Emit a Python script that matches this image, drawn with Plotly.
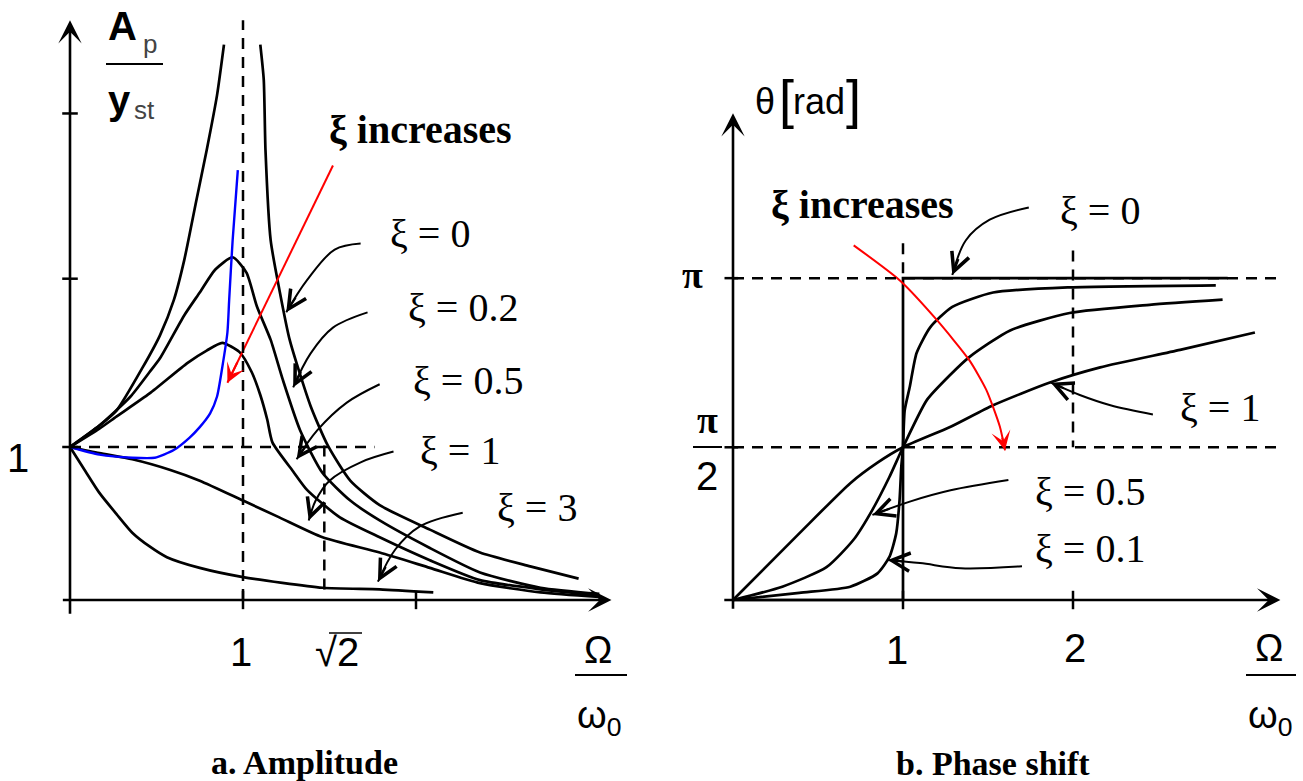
import plotly.graph_objects as go

W, H = 1303, 781

# ---------------- (a) Amplitude  A_p/y_st  vs  Omega/omega_0 ----------------
amp_xi0_left_x = [0, 0.17, 0.27, 0.42, 0.52, 0.60, 0.66, 0.73, 0.79, 0.85, 0.89]
amp_xi0_left_y = [1.00, 1.14, 1.24, 1.52, 1.73, 1.96, 2.22, 2.61, 2.94, 3.30, 3.63]
amp_xi0_right_x = [1.10, 1.12, 1.13, 1.16, 1.21, 1.27, 1.39, 1.49, 1.62, 1.79, 2.08, 2.37, 2.66, 2.94]
amp_xi0_right_y = [3.63, 3.40, 2.94, 2.35, 2.03, 1.70, 1.27, 1.01, 0.78, 0.62, 0.46, 0.31, 0.22, 0.14]
amp_xi02_x = [0, 0.17, 0.35, 0.46, 0.52, 0.66, 0.75, 0.84, 0.94, 1.02, 1.08, 1.16, 1.23, 1.33, 1.46,
              1.62, 1.79, 2.08, 2.37, 2.72, 3.06]
amp_xi02_y = [1.00, 1.14, 1.33, 1.49, 1.58, 1.86, 2.01, 2.16, 2.24, 2.14, 1.92, 1.70, 1.44, 1.11, 0.83,
              0.65, 0.52, 0.34, 0.18, 0.08, 0.04]
amp_xi05_x = [0, 0.17, 0.27, 0.46, 0.68, 0.79, 0.88, 0.98, 1.05, 1.10, 1.14, 1.17, 1.29, 1.37, 1.56,
              1.79, 2.08, 2.37, 2.72, 3.06]
amp_xi05_y = [1.00, 1.12, 1.20, 1.35, 1.55, 1.63, 1.68, 1.62, 1.49, 1.34, 1.18, 1.03, 0.84, 0.72, 0.54,
              0.41, 0.26, 0.13, 0.07, 0.03]
amp_xi1_x = [0, 0.17, 0.36, 0.58, 0.75, 1.00, 1.21, 1.46, 1.79, 2.08, 2.37, 2.72, 3.06]
amp_xi1_y = [1.00, 0.96, 0.92, 0.85, 0.78, 0.65, 0.54, 0.41, 0.31, 0.21, 0.11, 0.05, 0.02]
amp_xi3_x = [0, 0.09, 0.17, 0.27, 0.36, 0.46, 0.56, 0.75, 1.00, 1.46, 1.79, 2.10]
amp_xi3_y = [1.00, 0.84, 0.70, 0.56, 0.44, 0.35, 0.28, 0.21, 0.15, 0.08, 0.07, 0.05]
amp_blue_x = [0, 0.17, 0.36, 0.49, 0.60, 0.69, 0.75, 0.81, 0.85, 0.88, 0.91, 0.92, 0.94, 0.97]
amp_blue_y = [1.00, 0.95, 0.93, 0.93, 0.98, 1.06, 1.13, 1.22, 1.33, 1.52, 1.75, 1.96, 2.35, 2.81]

amp_y_ticks = [1.0, 2.1, 3.18]
amp_x_ticks = [1, 2]
amp_sqrt2_drawn = 1.47          # where the sketch draws sqrt(2)

# label arrows (tail ... tip)
amp_arrows = {
    "xi0":  ([1.68, 1.53, 1.37, 1.25], [2.33, 2.29, 2.09, 1.88]),
    "xi02": ([1.72, 1.52, 1.39, 1.29], [1.88, 1.78, 1.61, 1.39]),
    "xi05": ([1.79, 1.60, 1.43, 1.31], [1.41, 1.29, 1.11, 0.92]),
    "xi1":  ([1.87, 1.68, 1.50, 1.42, 1.38], [0.97, 0.90, 0.78, 0.65, 0.52]),
    "xi3":  ([2.27, 2.02, 1.88, 1.78], [0.57, 0.48, 0.33, 0.12]),
}
amp_red_arrow = ([1.52, 0.91], [2.84, 1.42])

# ---------------- (b) Phase shift  theta  vs  Omega/omega_0 ----------------
ph_pi_level = 3.14
ph_half_level = 1.49            # pi/2 level as drawn in the sketch
ph_xi0_x = [0, 1, 1, 2.91]
ph_xi0_y = [0, 0, 3.14, 3.14]
ph_xi01_x = [0, 0.39, 0.69, 0.85, 0.92, 0.96, 0.98, 0.99, 1.00, 1.01, 1.04, 1.08, 1.16, 1.29, 1.53, 1.98, 2.84]
ph_xi01_y = [0, 0.07, 0.13, 0.26, 0.42, 0.65, 0.98, 1.30, 1.49, 1.85, 2.08, 2.41, 2.66, 2.86, 3.00, 3.05, 3.07]
ph_xi05_x = [0, 0.29, 0.55, 0.71, 0.82, 0.92, 1.00, 1.14, 1.28, 1.39, 1.63, 1.98, 2.45, 2.88]
ph_xi05_y = [0, 0.13, 0.32, 0.59, 0.88, 1.20, 1.49, 1.95, 2.20, 2.37, 2.63, 2.80, 2.88, 2.93]
ph_xi1_x = [0, 0.39, 0.69, 0.85, 1.00, 1.28, 1.53, 1.86, 2.16, 2.63, 3.07]
ph_xi1_y = [0, 0.65, 1.14, 1.34, 1.49, 1.69, 1.90, 2.12, 2.27, 2.44, 2.61]
ph_x_ticks = [1, 2]

ph_arrows = {
    "xi0":  ([1.74, 1.51, 1.37, 1.29], [3.83, 3.71, 3.51, 3.17]),
    "xi1":  ([2.47, 2.22, 2.04, 1.87], [1.81, 1.90, 2.00, 2.12]),
    "xi05": ([1.62, 1.28, 1.04, 0.82], [1.17, 1.07, 0.96, 0.83]),
    "xi01": ([1.70, 1.34, 1.10, 0.91], [0.33, 0.31, 0.36, 0.39]),
}
ph_red_arrow = ([0.71, 0.98, 1.20, 1.39, 1.49, 1.57, 1.60], [3.46, 3.12, 2.73, 2.34, 2.05, 1.69, 1.46])

SERIF = "Liberation Serif"
SANS = "Liberation Sans"
LW = 2.7

fig = go.Figure()


def curve(x, y, sub=1, color="black", width=LW, shape="spline", smoothing=0.6):
    xa, ya = ("x", "y") if sub == 1 else ("x2", "y2")
    fig.add_trace(go.Scatter(x=x, y=y, mode="lines", xaxis=xa, yaxis=ya, hoverinfo="skip",
                             line=dict(color=color, width=width, shape=shape, smoothing=smoothing),
                             showlegend=False))


def head(xs, ys, sub=1, color="black", style=5, size=1.8, width=2.0, frac=0.5):
    xr, yr = ("x", "y") if sub == 1 else ("x2", "y2")
    tx, ty = xs[-1], ys[-1]
    bx = tx + frac * (xs[-2] - tx)
    by = ty + frac * (ys[-2] - ty)
    fig.add_annotation(x=tx, y=ty, ax=bx, ay=by, xref=xr, yref=yr, axref=xr, ayref=yr,
                       text="", showarrow=True, arrowhead=style, arrowsize=size,
                       arrowwidth=width, arrowcolor=color, standoff=0)


def axis_arrow(x0, y0, x1, y1, sub=1):
    xr, yr = ("x", "y") if sub == 1 else ("x2", "y2")
    fig.add_annotation(x=x1, y=y1, ax=x0, ay=y0, xref=xr, yref=yr, axref=xr, ayref=yr,
                       text="", showarrow=True, arrowhead=3, arrowsize=1.5,
                       arrowwidth=2.6, arrowcolor="black", standoff=0)


def seg(x0, y0, x1, y1, sub=1, dash=None, width=2.5):
    xr, yr = ("x", "y") if sub == 1 else ("x2", "y2")
    fig.add_shape(type="line", x0=x0, y0=y0, x1=x1, y1=y1, xref=xr, yref=yr,
                  line=dict(color="black", width=width, dash=dash))


def pseg(px0, py0, px1, py1, width=2):
    fig.add_shape(type="line", x0=px0 / W, x1=px1 / W, y0=1 - py0 / H, y1=1 - py1 / H,
                  xref="paper", yref="paper", line=dict(color="black", width=width))


def txt(px, py, s, size, family=SERIF, color="black"):
    fig.add_annotation(x=px / W, y=1 - py / H, xref="paper", yref="paper", text=s,
                       showarrow=False, xanchor="center", yanchor="middle",
                       font=dict(family=family, size=size, color=color))


DASH = "11px,8px"

# ----- panel (a) -----
seg(1, 0, 1, 3.79, 1, DASH)
seg(0, 1, 1.76, 1, 1, DASH)
seg(amp_sqrt2_drawn, 1.01, amp_sqrt2_drawn, 0.05, 1, DASH)
for t in amp_y_ticks:
    seg(-0.045, t, 0.045, t, 1, width=2.5)
for t in amp_x_ticks:
    seg(t, -0.06, t, 0.06, 1, width=2.5)
axis_arrow(0, -0.1, 0, 3.79, 1)
axis_arrow(-0.05, 0, 3.13, 0, 1)

curve(amp_xi0_left_x, amp_xi0_left_y)
curve(amp_xi0_right_x, amp_xi0_right_y)
curve(amp_xi02_x, amp_xi02_y)
curve(amp_xi05_x, amp_xi05_y)
curve(amp_xi1_x, amp_xi1_y)
curve(amp_xi3_x, amp_xi3_y)
curve(amp_blue_x, amp_blue_y, color="#0000ff", width=2.4)

for k, (ax_, ay_) in amp_arrows.items():
    curve(ax_, ay_, width=2.0, smoothing=1.0)
    head(ax_, ay_)
curve(amp_red_arrow[0], amp_red_arrow[1], color="#ff0000", width=2.0, shape="linear")
head(amp_red_arrow[0], amp_red_arrow[1], color="#ff0000", style=3, size=1.6, width=2.0, frac=0.1)

# ----- panel (b) -----
seg(0, ph_pi_level, 3.2, ph_pi_level, 2, DASH)
seg(0, ph_half_level, 3.2, ph_half_level, 2, DASH)
seg(2, 3.41, 2, ph_half_level, 2, DASH)
seg(1, 3.48, 1, ph_pi_level, 2, DASH)
for t in ph_x_ticks:
    seg(t, -0.09, t, 0.09, 2, width=2.5)
for t in (ph_half_level, ph_pi_level):
    seg(-0.05, t, 0.03, t, 2, width=2.5)
axis_arrow(0, -0.1, 0, 4.75, 2)
axis_arrow(-0.06, 0, 3.22, 0, 2)

curve(ph_xi0_x, ph_xi0_y, sub=2, shape="linear")
curve(ph_xi01_x, ph_xi01_y, sub=2)
curve(ph_xi05_x, ph_xi05_y, sub=2)
curve(ph_xi1_x, ph_xi1_y, sub=2)

for k, (ax_, ay_) in ph_arrows.items():
    curve(ax_, ay_, sub=2, width=2.0, smoothing=1.0)
    head(ax_, ay_, sub=2)
curve(ph_red_arrow[0], ph_red_arrow[1], sub=2, color="#ff0000", width=2.0)
head(ph_red_arrow[0], ph_red_arrow[1], sub=2, color="#ff0000", style=3, size=1.6, width=2.0, frac=0.6)

# ----- texts panel (a) -----
txt(122, 26, "<b>A</b>", 40, SANS)
txt(150, 44, "p", 26, SANS, "#444")
pseg(106, 64, 163, 64, 2)
txt(119, 100, "<b>y</b>", 40, SANS)
txt(144, 110, "st", 26, SANS, "#444")
txt(18, 458, "1", 40, SANS)
txt(420, 130, "<b>ξ increases</b>", 40)
txt(430, 233, "ξ = 0", 40)
txt(463, 307, "ξ = 0.2", 40)
txt(468, 380, "ξ = 0.5", 40)
txt(460, 450, "ξ = 1", 40)
txt(537, 507, "ξ = 3", 40)
txt(241, 652, "1", 40, SANS)
txt(337, 652, "√2", 40, SANS)
pseg(329, 633, 362, 633, 1.6)
txt(598, 650, "Ω", 38, SANS)
pseg(575, 675, 627, 675, 2)
txt(599, 718, "ω<sub>0</sub>", 38, SANS)
txt(304, 762, "<b>a. Amplitude</b>", 34)

# ----- texts panel (b) -----
txt(765, 101, "θ", 36, SANS)
txt(786, 99, "[", 54, SANS)
txt(819, 101, "rad", 36, SANS)
txt(853, 99, "]", 54, SANS)
txt(862, 205, "<b>ξ increases</b>", 40)
txt(1100, 210, "ξ = 0", 40)
txt(1220, 407, "ξ = 1", 40)
txt(1090, 492, "ξ = 0.5", 40)
txt(1090, 548, "ξ = 0.1", 40)
txt(692, 275, "<b>π</b>", 38)
txt(707, 420, "<b>π</b>", 38)
pseg(693, 447, 722, 447, 2)
txt(707, 476, "2", 40, SANS)
txt(897, 650, "1", 40, SANS)
txt(1075, 648, "2", 40, SANS)
txt(1269, 648, "Ω", 38, SANS)
pseg(1246, 675, 1296, 675, 2)
txt(1270, 718, "ω<sub>0</sub>", 38, SANS)
txt(993, 763, "<b>b. Phase shift</b>", 34)

noax = dict(visible=False, fixedrange=True)
fig.update_layout(
    width=W, height=H, margin=dict(l=0, r=0, t=0, b=0),
    paper_bgcolor="white", plot_bgcolor="white", showlegend=False,
    xaxis=dict(domain=[0, 650 / W], range=[-70 / 173, 580 / 173], **noax),
    yaxis=dict(domain=[0, 1], range=[(600 - 781) / 153, 600 / 153], **noax),
    xaxis2=dict(domain=[650 / W, 1], range=[(650 - 733) / 170, (1303 - 733) / 170], anchor="y2", **noax),
    yaxis2=dict(domain=[0, 1], range=[(600 - 781) / 102.5, 600 / 102.5], anchor="x2", **noax),
)

fig.write_html("out.html", config={"displayModeBar": False},
               post_script="document.body.style.margin='0px';document.body.style.padding='0px';"
                           "document.body.style.overflow='hidden';")
